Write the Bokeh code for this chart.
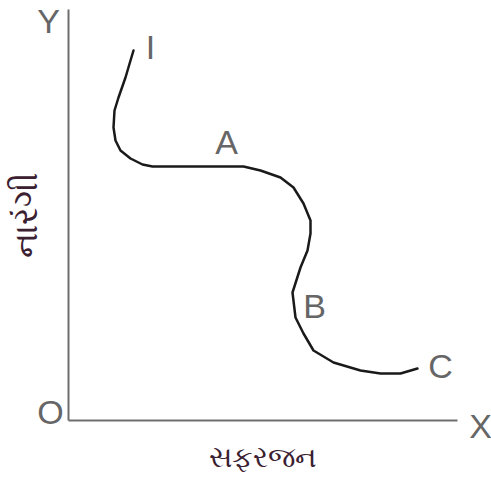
from bokeh.plotting import figure
from bokeh.models import Range1d, FixedTicker, ColumnDataSource, LabelSet
from bokeh.core.properties import value
from bokeh.embed import file_html
from bokeh.resources import INLINE

# Curve path (x, y) in chart units, origin at O
curve_x = [65, 62, 57, 50, 46, 45, 47, 52, 62, 74, 84, 132, 175, 192, 212, 225,
           235, 242, 242, 239, 232, 224, 227, 235, 245, 265, 292, 312, 332, 349]
curve_y = [370, 360, 343, 323, 310, 293, 280, 270, 262, 256, 254, 254, 254, 250,
           243, 233, 217, 200, 187, 170, 153, 128, 103, 87, 70, 58, 50, 47, 47, 52]

# Point letters and axis letters, anchored at their baselines
letters = ["I", "A", "B", "C", "Y", "O", "X"]
letter_x = [82, 158, 246, 372, -20, -18, 412]
letter_y = [362, 267, 103, 43, 388, -3, -17]

x_title = "સફરજન"
y_title = "નારંગી"

# Axis extents
x_len = 389
y_len = 411

p = figure(width=491, height=478, output_backend="svg", toolbar_location=None,
           x_range=Range1d(-68, 423), y_range=Range1d(-58, 420),
           min_border=0)
p.outline_line_color = None
p.xgrid.visible = False
p.ygrid.visible = False
p.background_fill_color = "white"
p.border_fill_color = "white"

for ax in (p.xaxis[0], p.yaxis[0]):
    ax.fixed_location = 0
    ax.ticker = FixedTicker(ticks=[])
    ax.minor_tick_line_color = None
    ax.major_tick_line_color = None
    ax.major_tick_out = 0
    ax.major_tick_in = 0
    ax.major_label_standoff = 0
    ax.major_label_text_font_size = "0px"
    ax.axis_line_color = "#6e6e6e"
    ax.axis_line_width = 2
    ax.axis_label_text_font = "Noto Sans"
    ax.axis_label_text_font_style = "normal"
    ax.axis_label_text_color = "#3a2030"

p.xaxis.bounds = (0, x_len)
p.yaxis.bounds = (0, y_len)
p.xaxis.axis_label = x_title
p.xaxis.axis_label_text_font_size = "29px"
p.xaxis.axis_label_standoff = 15
p.yaxis.axis_label = y_title
p.yaxis.axis_label_text_font_size = "34px"
p.yaxis.axis_label_standoff = 22

p.line(curve_x, curve_y, line_color="#1a1a1a", line_width=2.5,
       line_join="round", line_cap="round")

src = ColumnDataSource(dict(x=letter_x, y=letter_y, t=letters))
p.add_layout(LabelSet(x="x", y="y", text="t", source=src,
                      text_align="center", text_baseline="alphabetic",
                      text_font=value("Liberation Sans"),
                      text_font_size=value("34px"),
                      text_color="#666666"))

open("out.html", "w").write(file_html(p, INLINE))
